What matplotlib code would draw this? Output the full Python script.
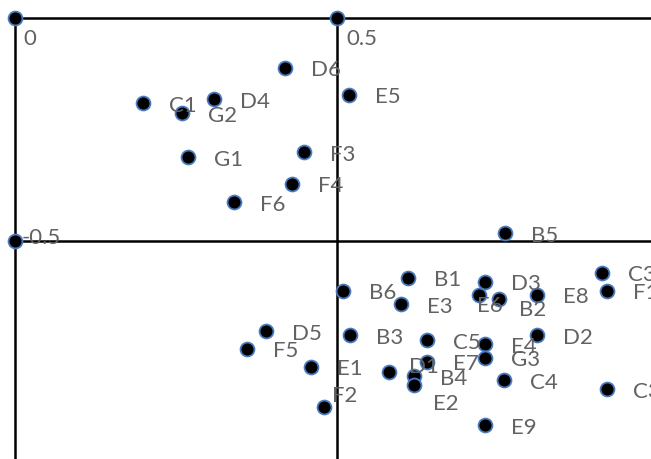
import numpy as np
import matplotlib
matplotlib.use('Agg')
import matplotlib.pyplot as plt

# #############################################################################
# Point coordinates and labels
names = ['D6', 'E5', 'C1', 'D4', 'G2', 'G1', 'F3', 'F4', 'F6',
         'B5', 'B1', 'B6', 'E3', 'D3', 'E6', 'B2', 'E8', 'C3', 'F1',
         'D5', 'F5', 'E1', 'F2', 'B3', 'C5', 'E7', 'D1', 'B4', 'E2',
         'E4', 'G3', 'D2', 'C4', 'C3', 'E9']
xs = [0.420, 0.519, 0.199, 0.309, 0.259, 0.269, 0.449, 0.430, 0.340,
      0.761, 0.611, 0.510, 0.600, 0.730, 0.720, 0.752, 0.810, 0.911, 0.920,
      0.390, 0.360, 0.459, 0.480, 0.520, 0.640, 0.640, 0.581, 0.620, 0.620,
      0.730, 0.730, 0.810, 0.759, 0.920, 0.730]
ys = [-0.111, -0.172, -0.191, -0.182, -0.214, -0.312, -0.301, -0.372, -0.413,
      -0.483, -0.582, -0.611, -0.642, -0.591, -0.621, -0.631, -0.621, -0.571, -0.612,
      -0.702, -0.742, -0.782, -0.872, -0.711, -0.722, -0.771, -0.793, -0.803, -0.823,
      -0.732, -0.762, -0.711, -0.812, -0.832, -0.913]

# reference points on the axes
ref_x = [0, 0.5, 0]
ref_y = [0, 0, -0.5]
ref_labels = ['0', '0.5', '-0.5']

# axis lines
v_lines = [0, 0.5]
h_lines = [0, -0.5]

# label placement (pixels right / down from the point to the text baseline)
default_off = (26, 8.5)
label_off = {'E6': (-2, 17), 'B2': (20, 17), 'F2': (8, -4.5),
             'D1': (20, 1.5), 'E2': (19, 25)}
ref_off = [(8, 27), (9, 26.5), (7, 2.5)]

txt_color = '#626262'
plt.rcParams['font.family'] = ['Lato', 'DejaVu Sans']

fig = plt.figure(figsize=(6.51, 4.59), dpi=100)
ax = fig.add_axes([0, 0, 1, 1])
ax.set_xlim(-0.0233, 0.9876)
ax.set_ylim(-0.9888, 0.0404)
ax.axis('off')

ax.vlines(v_lines, -1.5, 0, color='black', lw=1.8, zorder=1)
ax.hlines(h_lines, 0, 1.5, color='black', lw=1.8, zorder=1)

mk = dict(marker='o', ms=10, mfc='black', mec='#4a7bc0', mew=1.3,
          ls='none', zorder=3)
ax.plot(xs, ys, **mk)
ax.plot(ref_x, ref_y, **mk)

for n, x, y in zip(names, xs, ys):
    dx, dy = label_off.get(n, default_off)
    ax.annotate(n, (x, y), xytext=(dx, -dy), textcoords='offset pixels',
                ha='left', va='baseline', fontsize=16, color=txt_color,
                zorder=4)

for lab, x, y, (dx, dy) in zip(ref_labels, ref_x, ref_y, ref_off):
    ax.annotate(lab, (x, y), xytext=(dx, -dy), textcoords='offset pixels',
                ha='left', va='baseline', fontsize=16, color=txt_color,
                zorder=4)

plt.savefig('out.png', dpi=100)
